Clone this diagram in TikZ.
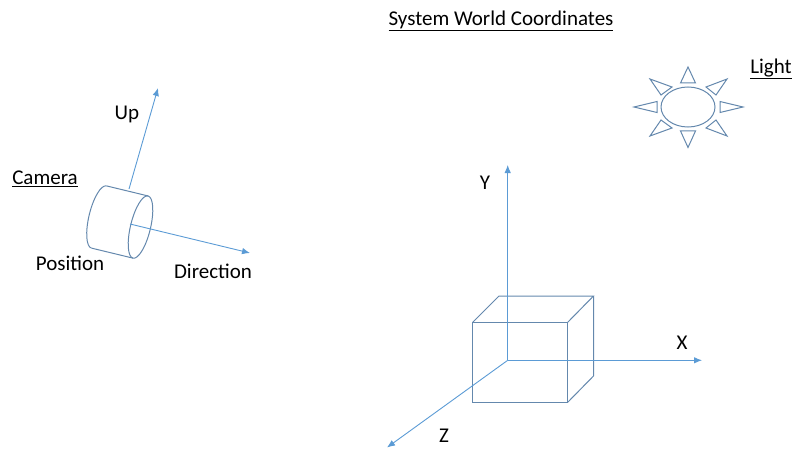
\documentclass[tikz,border=0pt]{standalone}
\usepackage{fontspec}
\setmainfont{Carlito}
\usepackage{tikz}
\usetikzlibrary{arrows.meta,shapes.geometric}
\definecolor{axisblue}{HTML}{5B9BD5}
\definecolor{shapeblue}{HTML}{6488AD}

\begin{document}
\begin{tikzpicture}[
  x=1pt, y=1pt,
  axis/.style={-{Latex[length=8pt,width=6.5pt]}, draw=axisblue, line width=0.9pt},
  outline/.style={draw=shapeblue, line width=1pt},
  label/.style={font=\fontsize{21}{24}\selectfont, text=black, inner sep=0pt}
]
  \useasboundingbox (0,0) rectangle (795,448);

  % Titles
  \node[label] (title) at (501,427) {\underline{System World Coordinates}};
  \node[label] (cameralabel) at (45,269) {\underline{Camera}};
  \node[label] (lightlabel) at (771,379) {\underline{Light}};

  % Cube
  \draw[outline] (472.5,45.5) rectangle (567.5,125.5);
  \draw[outline] (472.5,125.5) -- (499,152) -- (593.5,152) -- (567.5,125.5);
  \draw[outline] (593.5,152) -- (593.5,72) -- (567.5,45.5);

  % World axes
  \coordinate (origin) at (507.7,87.7);
  \coordinate (yend) at (507.7,283);
  \coordinate (xend) at (702,87.7);
  \coordinate (zend) at (387,0.5);
  \draw[axis] (origin) -- (yend);
  \draw[axis] (origin) -- (xend);
  \draw[axis] (origin) -- (zend);
  \node[label] (ylabel) at (485,265) {Y};
  \node[label] (xlabel) at (682,105) {X};
  \node[label] (zlabel) at (444,12) {Z};

  % Camera body
  \begin{scope}[shift={(99,231)}, rotate=76.4]
    \draw[outline] (32,0) arc[start angle=0, end angle=180, x radius=32, y radius=10];
    \draw[outline] (32,0) -- (32,-42.7);
    \draw[outline] (-32,0) -- (-32,-42.7);
    \draw[outline] (0,-42.7) ellipse[x radius=32, y radius=10];
  \end{scope}

  % Camera vectors
  \coordinate (camtop) at (129,259);
  \coordinate (upend) at (158,360);
  \coordinate (camcentre) at (130,224);
  \coordinate (dirend) at (250,195);
  \draw[axis] (camtop) -- (upend);
  \draw[axis] (camcentre) -- (dirend);
  \node[label] (uplabel) at (127,334) {Up};
  \node[label] (positionlabel) at (70,185) {Position};
  \node[label] (directionlabel) at (213,177) {Direction};

  % Light
  \node[ellipse, outline, minimum width=54pt, minimum height=40pt, inner sep=0pt] (sun) at (688,341) {};
  \foreach \ax/\ay/\bx/\by/\cx/\cy in {
      -7.5/24/7.5/24/0/40,
      -7.5/-24/7.5/-24/0/-40.5,
      -31/5.5/-31/-5.5/-54/0,
      32/5.5/32/-5.5/55/0,
      -16/20/-27/12/-38/28,
      18/20/28/12/39/28,
      -16/-21/-27/-13/-38/-29,
      18/-21/28/-13/39/-29}
    \draw[outline, shift={(sun.center)}] (\ax,\ay) -- (\bx,\by) -- (\cx,\cy) -- cycle;
\end{tikzpicture}
\end{document}
